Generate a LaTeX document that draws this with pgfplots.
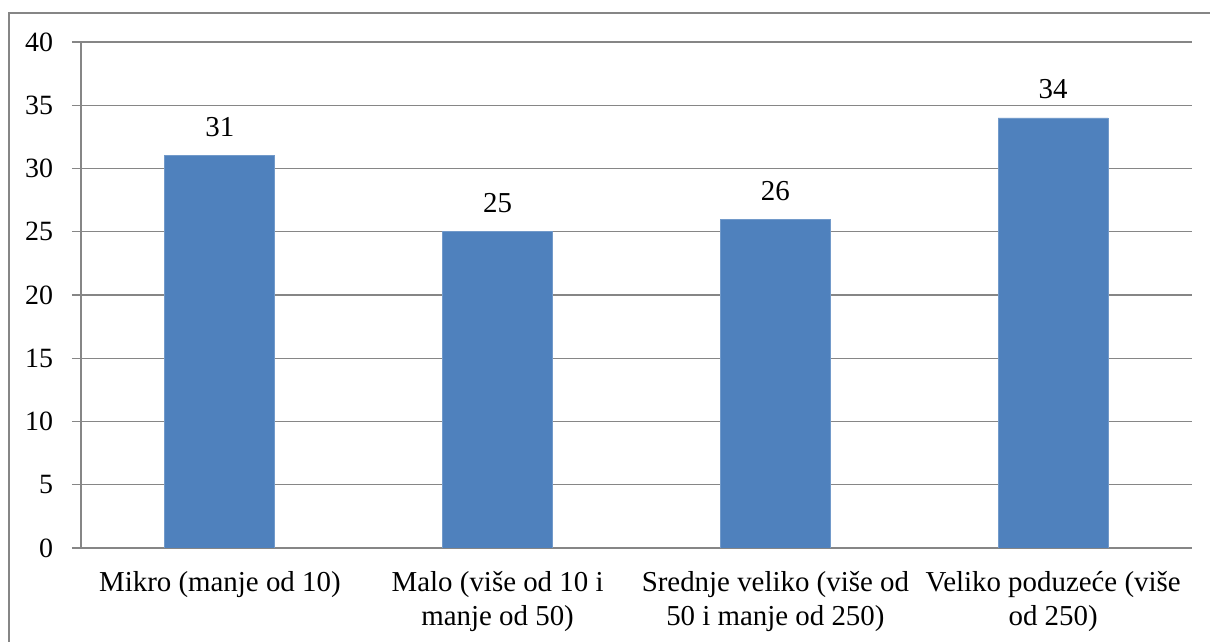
\documentclass[border=0pt]{standalone}
\usepackage{fontspec}
\setmainfont{Liberation Serif}
\usepackage{pgfplots}
\pgfplotsset{compat=1.18}

\definecolor{barblue}{HTML}{4F81BD}
\definecolor{gridgray}{HTML}{868686}

\begin{document}
\begin{tikzpicture}
\useasboundingbox (0,0) rectangle (605bp,321bp);
% outer chart frame (only top and left edges are inside the picture)
\draw[gridgray, line width=0.7bp] (4.5bp,-5bp) -- (4.5bp,314.5bp) -- (615bp,314.5bp);
\begin{axis}[
    at={(40.5bp,47bp)}, anchor=south west,
    width=555.5bp, height=253bp, scale only axis,
    ybar, bar width=55bp,
    xmin=-0.5, xmax=3.5,
    ymin=0, ymax=40, ytick distance=5,
    xtick={0,1,2,3},
    xticklabels={{Mikro (manje od 10)}, {Malo (više od 10 i\\manje od 50)}, {Srednje veliko (više od\\50 i manje od 250)}, {Veliko poduzeće (više\\od 250)}},
    xticklabel style={align=center, font=\fontsize{14.5}{17}\selectfont, yshift=-3.5bp},
    yticklabel style={font=\fontsize{14}{17}\selectfont, xshift=-6bp},
    /pgf/number format/assume math mode=true,
    major x tick style={draw=none},
    extra x ticks={-0.5,0.5,1.5,2.5,3.5},
    extra x tick labels={},
    extra x tick style={major tick length=4bp, tick style={gridgray, line width=0.7bp}},
    axis x line*=bottom, axis y line*=left,
    axis line style={gridgray, line width=0.7bp},
    tick align=outside, major tick length=4.5bp,
    tick style={gridgray, line width=0.7bp},
    major y tick style={draw=gridgray, line width=0.7bp},
    ymajorgrids, grid style={gridgray, line width=0.7bp},
    nodes near coords,
    nodes near coords style={font=\fontsize{14.5}{17}\selectfont, anchor=base, yshift=9.5bp},
    every node near coord/.append style={/pgf/number format/assume math mode=true},
]
\addplot[fill=barblue, draw=barblue!80!white, line width=0.4bp] coordinates {
    (0,31) (1,25) (2,26) (3,34)
};
\end{axis}
\end{tikzpicture}
\end{document}
